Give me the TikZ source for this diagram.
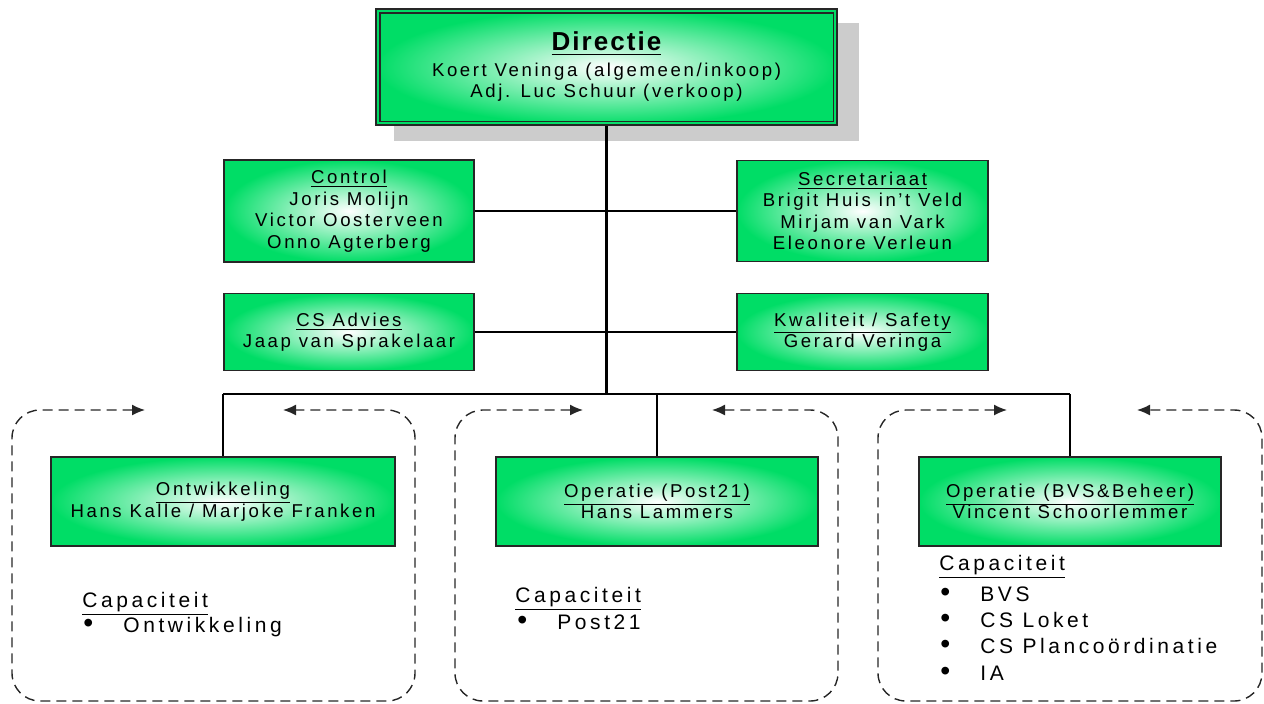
\documentclass[tikz,border=0pt]{standalone}
\usepackage{fontspec}
\setmainfont{Liberation Sans}[LetterSpace=14]
\usetikzlibrary{arrows.meta}
\definecolor{boxgreen}{RGB}{0,221,102}
\definecolor{shadowgray}{RGB}{204,204,204}
\newcommand\bulitem{\makebox[20pt][l]{\scalebox{1.35}{\textbullet}}}
\begin{document}
\begin{tikzpicture}[x=0.5pt,y=-0.5pt,
  box/.style={draw=black!85, line width=0.6pt, inner color=white, outer color=boxgreen,
    align=center, inner sep=0pt, font=\fontsize{9.3}{10.75}\selectfont, text=black},
  link/.style={draw=black, line width=1pt},
  trunk/.style={draw=black, line width=1.35pt},
  cont/.style={draw=black!85, line width=0.7pt, dash pattern=on 5pt off 3pt, rounded corners=14pt,
    arrows={Latex[length=6.5pt,width=5.5pt]-Latex[length=6.5pt,width=5.5pt]}},
  captext/.style={anchor=base west, inner sep=0pt, font=\fontsize{10.5}{13}\selectfont\addfontfeatures{LetterSpace=17}}]
\useasboundingbox (0,0) rectangle (1264,703);

% shadow of Directie
\fill[shadowgray] (394,23) rectangle (859,141);

% Directie
\node[box, minimum width=230.5pt, minimum height=58pt] (dir) at (606.5,67)
  {{\fontsize{13}{14}\selectfont\bfseries\addfontfeatures{LetterSpace=8}\underline{Directie}}\\[2pt]
   Koert Veninga (algemeen/inkoop)\\ Adj. Luc Schuur (verkoop)};
\draw[black!85, line width=0.6pt] ([shift={(4.5,4.5)}]dir.north west) rectangle ([shift={(-4.5,-4.5)}]dir.south east);

% staff boxes
\node[box, minimum width=125pt, minimum height=51pt] (ctrl) at (349,211)
  {\underline{Control}\\ Joris Molijn\\ Victor Oosterveen\\ Onno Agterberg};
\node[box, minimum width=125.5pt, minimum height=50.5pt] (secr) at (862.5,211)
  {\underline{Secretariaat}\\ Brigit Huis in't Veld\\ Mirjam van Vark\\ Eleonore Verleun};
\node[box, minimum width=125pt, minimum height=38.5pt] (csa) at (349,332)
  {\underline{CS Advies}\\ Jaap van Sprakelaar};
\node[box, minimum width=125.5pt, minimum height=38.5pt] (kwal) at (862.5,332)
  {\underline{Kwaliteit / Safety}\\ Gerard Veringa};

% line boxes
\node[box, minimum width=172pt, minimum height=44.5pt] (ontw) at (223,501.5)
  {\underline{Ontwikkeling}\\ Hans Kalle / Marjoke Franken};
\node[box, minimum width=161pt, minimum height=44.5pt] (post) at (657,501.5)
  {\underline{Operatie (Post21)}\\ Hans Lammers};
\node[box, minimum width=151pt, minimum height=44.5pt] (bvs) at (1070,501.5)
  {\underline{Operatie (BVS\&Beheer)}\\ Vincent Schoorlemmer};

% bus coordinates
\coordinate (busL) at (223,394);
\coordinate (busR) at (1070,394);
\coordinate (busM) at (606.5,394);

% connectors
\draw[link] (ctrl.east) -- (secr.west);
\draw[link] (csa.east) -- (kwal.west);
\draw[link] (busL) -- (busR);
\draw[link] (busL) -- (ontw.north);
\draw[link] (post.north |- busL) -- (post.north);
\draw[link] (busR) -- (bvs.north);
\draw[trunk] (dir.south) -- (busM);

% dashed containers
\draw[cont] (145,410) -| (12,701) -| (415,410) -- (283,410);
\draw[cont] (583,410) -| (455,701) -| (838,410) -- (712,410);
\draw[cont] (1007,410) -| (878,701) -| (1262,410) -- (1137,410);

% capacity lists
\node[captext] (capL) at (82,607) {\underline{Capaciteit}};
\node[captext] (capL1) at (83,632) {\bulitem Ontwikkeling};
\node[captext] (capM) at (515,602) {\underline{Capaciteit}};
\node[captext] (capM1) at (517,629) {\bulitem Post21};
\node[captext] (capR) at (939,570) {\underline{Capaciteit}};
\node[captext] (capR1) at (940,601) {\bulitem BVS};
\node[captext] (capR2) at (940,627) {\bulitem CS Loket};
\node[captext] (capR3) at (940,653) {\bulitem CS Plancoördinatie};
\node[captext] (capR4) at (940,680) {\bulitem IA};
\end{tikzpicture}
\end{document}
